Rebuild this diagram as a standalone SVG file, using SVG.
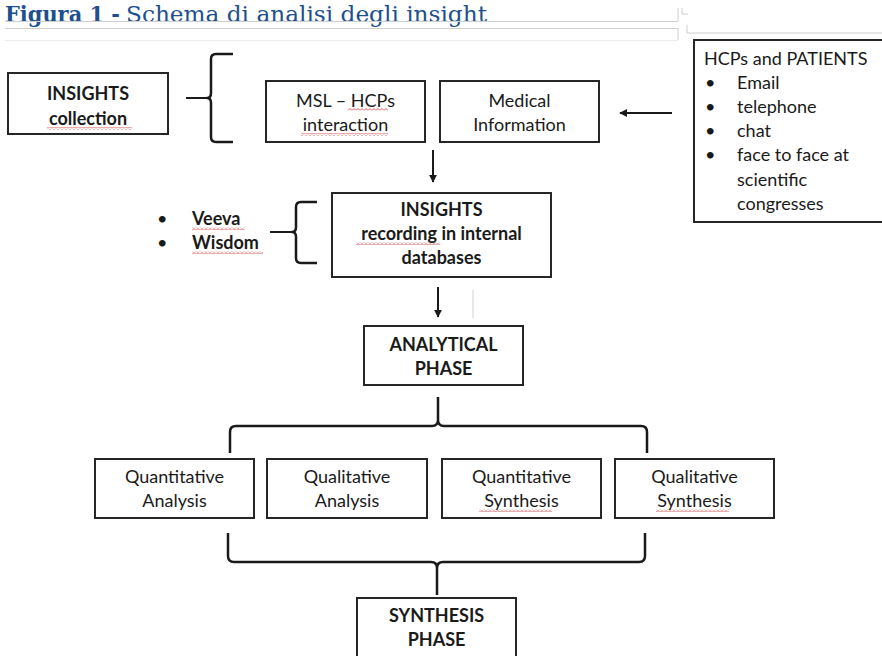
<svg xmlns="http://www.w3.org/2000/svg" width="882" height="656" viewBox="0 0 882 656">
<style>
.box{fill:#fff;stroke:#262626;stroke-width:2}
.t{font-family:Lato,"Liberation Sans",sans-serif;font-size:18px;fill:#1a1a1a;text-anchor:middle}
.b{font-weight:bold}
.l{text-anchor:start}
.brace{fill:none;stroke:#1a1a1a;stroke-width:2.5;stroke-linejoin:round}
.conn{stroke:#1a1a1a;stroke-width:2;fill:none}
.faint{stroke:#cfcfcf;stroke-width:1;fill:none}
.sq{fill:url(#sq)}
</style>
<defs>
<marker id="ah" viewBox="0 0 10 10" refX="9" refY="5" markerWidth="4" markerHeight="4" orient="auto">
<path d="M0,0 L10,5 L0,10 z" fill="#1a1a1a"/>
</marker>
<pattern id="sq" width="4" height="3" patternUnits="userSpaceOnUse">
<path d="M0,2.5 L2,0.5 L4,2.5" fill="none" stroke="#d03030" stroke-width="0.8"/>
</pattern>
</defs>
<rect width="882" height="656" fill="#fff"/>

<g id="title">
<text x="5" y="22" font-family="DejaVu Serif,serif" font-size="23" fill="#204f8e"><tspan font-weight="bold" textLength="115" lengthAdjust="spacingAndGlyphs">Figura 1 -</tspan><tspan x="126" textLength="361" lengthAdjust="spacingAndGlyphs">Schema di analisi degli insight</tspan></text>
<path class="faint" d="M5,21.5 H678 M5,28.5 H678 M678,8 V21 M678,28 V40 M682,8 V14 H688 M687,25 V33 H882"/>
<path d="M5,40.5 H678" stroke="#ececec" stroke-width="1"/>
</g>

<g id="insights-collection">
<rect class="box" x="8" y="73" width="160" height="61"/>
<text class="t b" x="88" y="100">INSIGHTS</text>
<text class="t b" x="88" y="125">collection</text>
<rect class="sq" x="47" y="127" width="85" height="3"/>
</g>

<g id="msl-hcps">
<rect class="box" x="266" y="81" width="159" height="61"/>
<text class="t" x="345.5" y="107">MSL – HCPs</text>
<text class="t" x="345.5" y="131">interaction</text>
<rect class="sq" x="348" y="108" width="40" height="3"/>
<rect class="sq" x="301" y="133" width="87" height="3"/>
</g>

<g id="medical-information">
<rect class="box" x="440" y="81" width="159" height="61"/>
<text class="t" x="519.5" y="107">Medical</text>
<text class="t" x="519.5" y="131">Information</text>
</g>

<g id="hcps-patients">
<rect class="box" x="694" y="40" width="200" height="182"/>
<text class="t l" x="704" y="65">HCPs and PATIENTS</text>
<text class="t l" x="705" y="89">•</text><text class="t l" x="737" y="89">Email</text>
<text class="t l" x="705" y="113">•</text><text class="t l" x="737" y="113">telephone</text>
<text class="t l" x="705" y="137">•</text><text class="t l" x="737" y="137">chat</text>
<text class="t l" x="705" y="161">•</text><text class="t l" x="737" y="161">face to face at</text>
<text class="t l" x="737" y="186">scientific</text>
<text class="t l" x="737" y="210">congresses</text>
</g>

<g id="databases-list">
<text class="t l" x="157" y="225">•</text><text class="t b l" x="192" y="225">Veeva</text>
<text class="t l" x="157" y="249">•</text><text class="t b l" x="192" y="249">Wisdom</text>
<rect class="sq" x="192" y="227" width="53" height="3"/>
<rect class="sq" x="192" y="251" width="71" height="3"/>
</g>

<g id="insights-recording">
<rect class="box" x="332" y="193" width="219" height="84"/>
<text class="t b" x="441.5" y="216">INSIGHTS</text>
<text class="t b" x="441.5" y="240">recording in internal</text>
<text class="t b" x="441.5" y="264">databases</text>
<rect class="sq" x="356" y="242" width="84" height="3"/>
</g>

<g id="analytical-phase">
<rect class="box" x="364" y="326" width="159" height="59"/>
<text class="t b" x="443.5" y="351">ANALYTICAL</text>
<text class="t b" x="443.5" y="375">PHASE</text>
</g>

<g id="quantitative-analysis">
<rect class="box" x="95" y="459" width="159" height="59"/>
<text class="t" x="174.5" y="483">Quantitative</text>
<text class="t" x="174.5" y="507">Analysis</text>
</g>

<g id="qualitative-analysis">
<rect class="box" x="267" y="459" width="160" height="59"/>
<text class="t" x="347" y="483">Qualitative</text>
<text class="t" x="347" y="507">Analysis</text>
</g>

<g id="quantitative-synthesis">
<rect class="box" x="442" y="459" width="159" height="59"/>
<text class="t" x="521.5" y="483">Quantitative</text>
<text class="t" x="521.5" y="507">Synthesis</text>
<rect class="sq" x="479" y="509" width="73" height="3"/>
</g>

<g id="qualitative-synthesis">
<rect class="box" x="615" y="459" width="159" height="59"/>
<text class="t" x="694.5" y="483">Qualitative</text>
<text class="t" x="694.5" y="507">Synthesis</text>
<rect class="sq" x="656" y="509" width="73" height="3"/>
</g>

<g id="synthesis-phase">
<rect class="box" x="357" y="598" width="159" height="70"/>
<text class="t b" x="436.5" y="622">SYNTHESIS</text>
<text class="t b" x="436.5" y="646">PHASE</text>
</g>

<g id="connectors">
<path class="conn" d="M186,98 H209"/>
<path class="brace" d="M233,54 H216 Q211,54 211,59 V93 Q211,98 207,98 Q211,98 211,103 V137 Q211,142 216,142 H233"/>
<path class="conn" d="M672,113 H620" marker-end="url(#ah)"/>
<path class="conn" d="M433,150 V182" marker-end="url(#ah)"/>
<path class="conn" d="M270,232 H293"/>
<path class="brace" d="M317,202 H301 Q296,202 296,207 V227 Q296,232 292,232 Q296,232 296,237 V258 Q296,263 301,263 H317"/>
<path class="conn" d="M438,287 V317" marker-end="url(#ah)"/>
<path class="faint" d="M473,290 V318"/>
<path class="brace" d="M230,453 V432 Q230,426 236,426 H432 Q438,426 438,420 V397 M438,420 Q438,426 444,426 H641 Q647,426 647,432 V453"/>
<path class="brace" d="M228,533 V556 Q228,562 234,562 H431 Q437,562 437,568 V595 M437,568 Q437,562 443,562 H639 Q645,562 645,556 V533"/>
</g>
</svg>
